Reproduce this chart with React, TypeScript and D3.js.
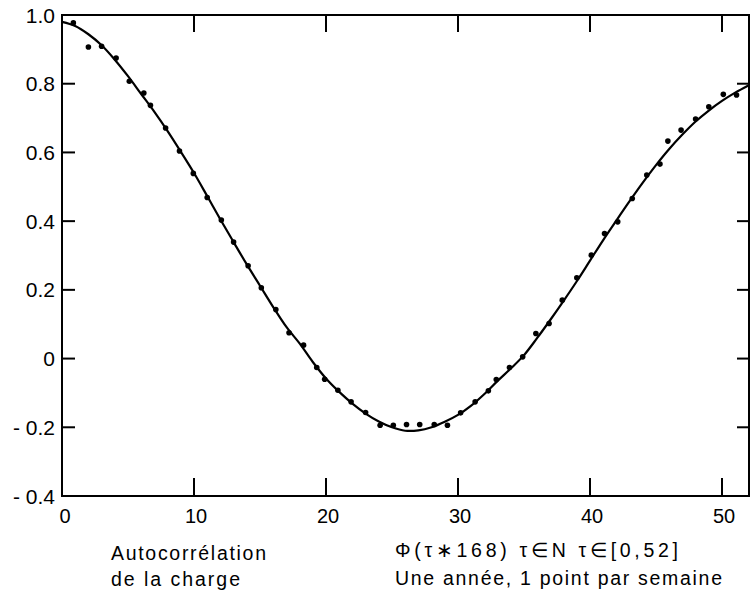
import React from 'react';
import * as d3 from 'd3';

// Measured autocorrelation points (week lag, value)
const pointWeeks = [0.86, 2.0, 3.0, 4.1, 5.1, 6.2, 6.7, 7.85, 8.9, 9.95, 11.0, 12.07, 13.0, 14.1, 15.1, 16.2, 17.2, 18.3, 19.3, 19.9, 20.9, 21.9, 23.0, 24.1, 25.1, 26.1, 27.1, 28.2, 29.2, 30.2, 31.3, 32.3, 32.9, 33.9, 34.9, 35.9, 36.9, 37.9, 39.0, 40.1, 41.1, 42.1, 43.2, 44.3, 45.3, 45.9, 46.9, 48.0, 49.0, 50.1, 51.1];
const pointValues = [0.977, 0.907, 0.909, 0.875, 0.807, 0.773, 0.737, 0.671, 0.604, 0.539, 0.469, 0.403, 0.339, 0.27, 0.206, 0.143, 0.075, 0.039, -0.026, -0.06, -0.092, -0.126, -0.157, -0.194, -0.194, -0.192, -0.192, -0.192, -0.194, -0.158, -0.126, -0.094, -0.061, -0.026, 0.005, 0.073, 0.102, 0.17, 0.235, 0.301, 0.364, 0.398, 0.466, 0.534, 0.566, 0.633, 0.665, 0.697, 0.733, 0.769, 0.767];

// Fitted smooth curve
const curveWeeks = [0, 1, 2, 3, 4, 5, 6, 7, 8, 9, 10, 11, 12, 13, 14, 15, 16, 17, 18, 19, 20, 21, 22, 23, 24, 25, 26, 27, 28, 29, 30, 31, 32, 33, 34, 35, 36, 37, 38, 39, 40, 41, 42, 43, 44, 45, 46, 47, 48, 49, 50, 51, 52];
const curveValues = [0.98, 0.968, 0.944, 0.912, 0.87, 0.822, 0.77, 0.718, 0.662, 0.602, 0.54, 0.473, 0.405, 0.339, 0.274, 0.212, 0.15, 0.092, 0.044, -0.01, -0.058, -0.097, -0.131, -0.16, -0.183, -0.2, -0.21, -0.209, -0.2, -0.184, -0.164, -0.137, -0.103, -0.065, -0.029, 0.01, 0.06, 0.113, 0.168, 0.225, 0.285, 0.345, 0.402, 0.458, 0.512, 0.563, 0.61, 0.652, 0.69, 0.722, 0.75, 0.774, 0.795];

const xTicks = [10, 20, 30, 40, 50];
const xTickLabels = ['0', '10', '20', '30', '40', '50'];
const xLabelValues = [0, 10, 20, 30, 40, 50];
const yTickValues = [1.0, 0.8, 0.6, 0.4, 0.2, 0, -0.2, -0.4];
const yTickLabels = ['1.0', '0.8', '0.6', '0.4', '0.2', '0', '- 0.2', '- 0.4'];
const innerYTicks = [0.8, 0.6, 0.4, 0.2, 0, -0.2];

const captionLeft = ['Autocorrélation', 'de la charge'];
const captionRight = ['Φ(τ∗168)  τ∈N   τ∈[0,52]', 'Une année, 1 point par semaine'];

export default function App() {
  const W = 750, H = 594;
  const left = 62, right = 748.4, top = 15, bottom = 496;
  const x = d3.scaleLinear().domain([0, 52]).range([left, right]);
  const y = d3.scaleLinear().domain([-0.4, 1.0]).range([bottom, top]);
  const curvePts: [number, number][] = curveWeeks.map((w, i) => [w, curveValues[i]]);
  const line = d3.line<[number, number]>().x(d => x(d[0])).y(d => y(d[1])).curve(d3.curveCatmullRom.alpha(0.5));
  const font = '"Liberation Sans", Arial, sans-serif';
  const frameRight = 749;
  return (
    <svg width={W} height={H} style={{ position: 'absolute', left: 0, top: 0, background: '#fff' }} fontFamily={font}>
      <rect x={0} y={0} width={W} height={H} fill="#fff" />
      {/* frame */}
      <rect x={left} y={top} width={frameRight - left} height={bottom - top} fill="none" stroke="#000" strokeWidth={2} />
      {/* top & bottom ticks */}
      {xTicks.map(t => (
        <g key={'xt' + t}>
          <line x1={x(t)} x2={x(t)} y1={top} y2={top + 17} stroke="#000" strokeWidth={2} />
          <line x1={x(t)} x2={x(t)} y1={bottom} y2={bottom - 18} stroke="#000" strokeWidth={2} />
        </g>
      ))}
      {/* left & right ticks */}
      {innerYTicks.map(t => (
        <g key={'yt' + t}>
          <line x1={left} x2={left + 13} y1={y(t)} y2={y(t)} stroke="#000" strokeWidth={2} />
          <line x1={frameRight} x2={frameRight - 12} y1={y(t)} y2={y(t)} stroke="#000" strokeWidth={2} />
        </g>
      ))}
      {/* y labels */}
      {yTickValues.map((v, i) => (
        <text key={'yl' + i} x={55} y={y(v)} dy="0.36em" textAnchor="end" fontSize={21} fill="#000">{yTickLabels[i]}</text>
      ))}
      {/* x labels */}
      {xLabelValues.map((v, i) => (
        <text key={'xl' + i} x={x(v) + (v === 0 ? 3 : 2)} y={523} textAnchor="middle" fontSize={20} fill="#000">{xTickLabels[i]}</text>
      ))}
      {/* curve */}
      <path d={line(curvePts) || ''} fill="none" stroke="#000" strokeWidth={2.2} />
      {/* points */}
      {pointWeeks.map((w, i) => (
        <circle key={'p' + i} cx={x(w)} cy={y(pointValues[i])} r={2.8} fill="#000" />
      ))}
      {/* captions */}
      <text x={111} y={560} fontSize={19.5} textLength={155} lengthAdjust="spacing" fill="#000">{captionLeft[0]}</text>
      <text x={111} y={586} fontSize={19.5} textLength={129} lengthAdjust="spacing" fill="#000">{captionLeft[1]}</text>
      <text x={395} y={557} fontSize={19.5} textLength={283} lengthAdjust="spacing" fill="#000">{captionRight[0]}</text>
      <text x={395} y={585} fontSize={19.5} textLength={327} lengthAdjust="spacing" fill="#000">{captionRight[1]}</text>
    </svg>
  );
}
